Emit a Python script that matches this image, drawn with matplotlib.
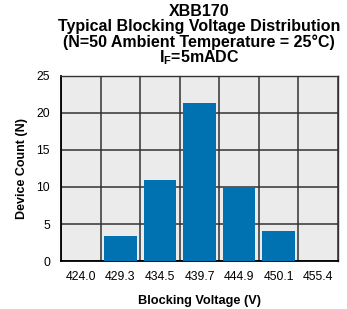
import matplotlib
matplotlib.use("Agg")
import matplotlib.pyplot as plt
import numpy as np

plt.rcParams['font.family'] = ['Liberation Sans', 'DejaVu Sans']
plt.rcParams['mathtext.fontset'] = 'custom'
plt.rcParams['mathtext.rm'] = 'Liberation Sans'
plt.rcParams['mathtext.bf'] = 'Liberation Sans:bold'

voltages = ["424.0", "429.3", "434.5", "439.7", "444.9", "450.1", "455.4"]
counts = [0, 3.4, 11, 21.3, 10, 4, 0]

fig = plt.figure(figsize=(3.47, 3.09), dpi=100)
ax = fig.add_axes([0.176, 0.155, 0.798, 0.6])

x = np.arange(len(voltages))
ax.set_facecolor("#ebebeb")
ax.set_axisbelow(True)
ax.bar(x, counts, width=0.83, color="#0072b2", zorder=3)

ax.set_xlim(-0.5, len(voltages) - 0.5)
ax.set_ylim(0, 25)
ax.set_yticks([0, 5, 10, 15, 20, 25])
ax.set_xticks(x)
ax.set_xticklabels(voltages)
ax.set_xticks(np.arange(-0.5, len(voltages), 1), minor=True)
ax.grid(True, axis="y", which="major", color="#333333", linewidth=1.1)
ax.grid(True, axis="x", which="minor", color="#333333", linewidth=1.1)
ax.grid(False, axis="x", which="major")
ax.tick_params(axis="both", which="both", length=0, labelsize=8.8)
ax.tick_params(axis="x", pad=7)
ax.tick_params(axis="y", pad=8)

for s in ["left", "bottom"]:
    ax.spines[s].set_linewidth(1.3)
    ax.spines[s].set_color("black")
for s in ["top", "right"]:
    ax.spines[s].set_linewidth(1.0)
    ax.spines[s].set_color("#333333")

ax.set_xlabel("Blocking Voltage (V)", fontsize=9.2, fontweight="bold", labelpad=9)
ax.set_ylabel("Device Count (N)", fontsize=9, fontweight="bold", labelpad=6)

tsize = 11.5
fig.text(0.573, 0.962, "XBB170", ha="center", va="center", fontsize=tsize, fontweight="bold")
fig.text(0.573, 0.913, "Typical Blocking Voltage Distribution", ha="center", va="center", fontsize=tsize, fontweight="bold")
fig.text(0.573, 0.864, "(N=50 Ambient Temperature = 25°C)", ha="center", va="center", fontsize=tsize, fontweight="bold")
fig.text(0.573, 0.812, r"$\mathbf{I_F}$=5mADC", ha="center", va="center", fontsize=tsize, fontweight="bold")

fig.savefig("out.png", dpi=100)
